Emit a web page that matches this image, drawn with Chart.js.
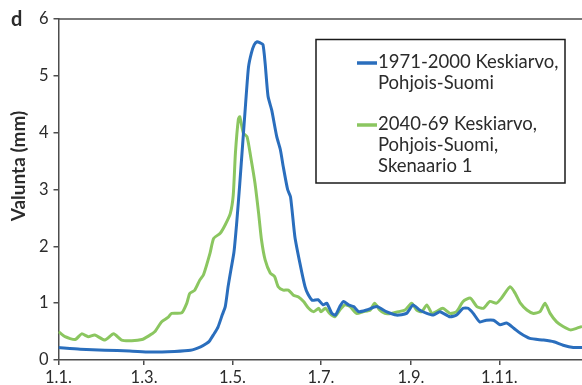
<!DOCTYPE html>
<html lang="fi">
<head>
  <meta charset="UTF-8" />
  <title>Valunta - Pohjois-Suomi</title>
  <script src="https://cdn.jsdelivr.net/npm/chart.js"></script>
  <style>
    html, body { margin: 0; padding: 0; background: #fff; }
    canvas { display: block; }
  </style>
</head>
<body>
  <canvas id="valunta" width="582" height="385"></canvas>

  <script>
    // päivä vuoden alusta (1.1. = 0) ja valunta mm
    const blueDays = [0, 15, 32, 49, 63, 80, 91, 98, 102, 104, 107, 110, 113, 115, 117, 119, 121, 123, 125, 127, 129, 131, 133, 135, 137, 139, 141, 142.5, 144.5, 147, 150.5, 153, 155, 158, 160, 163, 166.5, 170, 172, 175, 179, 182.5, 185, 188.5, 191, 194, 196.5, 200, 203.5, 207, 212.5, 219.5, 226, 233, 240, 244.5, 249, 254, 258.5, 263, 270, 274.5, 279, 282.5, 286, 290.5, 295, 300, 304.5, 309, 314, 318.5, 325, 334.5, 341.5, 348, 355, 361];
    const blueValues = [0.22, 0.19, 0.17, 0.16, 0.14, 0.15, 0.17, 0.23, 0.29, 0.33, 0.45, 0.58, 0.8, 0.94, 1.3, 1.6, 1.9, 2.45, 3.1, 3.8, 4.5, 5.15, 5.4, 5.55, 5.6, 5.58, 5.55, 5.22, 4.64, 4.4, 3.93, 3.7, 3.4, 3.0, 2.87, 2.17, 1.7, 1.29, 1.16, 1.05, 1.06, 0.97, 1.0, 0.82, 0.79, 0.94, 1.03, 0.97, 0.94, 0.85, 0.88, 0.94, 0.85, 0.79, 0.82, 0.97, 0.88, 0.82, 0.79, 0.85, 0.76, 0.79, 0.91, 0.91, 0.82, 0.67, 0.7, 0.7, 0.62, 0.65, 0.56, 0.47, 0.38, 0.35, 0.32, 0.26, 0.22, 0.22];

    const greenDays = [0, 4.5, 11.5, 16, 20.5, 25, 32, 38, 43.5, 50.5, 57.5, 62, 66.5, 71, 75.5, 78, 85, 88.5, 90.5, 94, 97.5, 100, 104.5, 107, 111.5, 115, 118.5, 120.5, 122, 124, 125, 127.5, 130, 132.5, 135.5, 138, 140, 142.5, 146, 149, 151.5, 155, 158.5, 162, 165.5, 169, 172.5, 176, 179.5, 181, 184, 187, 190.5, 194, 197.5, 201, 205.5, 210, 215, 218, 221.5, 225, 229.5, 234.5, 239, 243.5, 247, 250.5, 254, 257.5, 260.5, 265, 270, 274.5, 279, 284, 288.5, 293, 297.5, 302, 305.5, 311.5, 315, 318.5, 323, 327.5, 332, 335.5, 339, 343.5, 348, 353, 357.5, 361];
    const greenValues = [0.5, 0.41, 0.36, 0.46, 0.41, 0.44, 0.35, 0.46, 0.35, 0.34, 0.36, 0.42, 0.5, 0.67, 0.75, 0.82, 0.83, 1.0, 1.17, 1.23, 1.41, 1.5, 1.88, 2.14, 2.23, 2.38, 2.58, 2.9, 3.64, 4.23, 4.28, 3.99, 3.93, 3.58, 3.11, 2.58, 2.11, 1.76, 1.53, 1.47, 1.29, 1.23, 1.23, 1.14, 1.11, 1.03, 0.91, 0.85, 0.91, 0.85, 0.91, 0.82, 0.76, 0.88, 0.97, 0.94, 0.82, 0.85, 0.88, 1.0, 0.88, 0.82, 0.82, 0.85, 0.88, 1.0, 0.88, 0.85, 0.97, 0.82, 0.85, 0.91, 0.82, 0.85, 1.03, 1.09, 0.94, 0.91, 1.03, 1.0, 1.09, 1.29, 1.17, 1.0, 0.88, 0.82, 0.85, 1.0, 0.82, 0.67, 0.59, 0.53, 0.56, 0.59];

    const tickDays = [0, 59, 120, 181, 243, 304];
    const tickLabels = ['1.1.', '1.3.', '1.5.', '1.7.', '1.9.', '1.11.'];
    const yTicks = [0, 1, 2, 3, 4, 5, 6];

    const blueLegend = ['1971-2000 Keskiarvo,', 'Pohjois-Suomi'];
    const greenLegend = ['2040-69 Keskiarvo,', 'Pohjois-Suomi,', 'Skenaario 1'];

    const axisColor = '#4d4d4d';
    const textColor = '#2b2b2b';
    const fontFamily = 'Lato, "Open Sans", sans-serif';

    // kirjain d, y-akselin otsikko, yläreuna ja selite
    const koristeet = {
      id: 'koristeet',
      afterDraw(chart) {
        const ctx = chart.ctx;
        const area = chart.chartArea;
        ctx.save();

        ctx.strokeStyle = axisColor;
        ctx.lineWidth = 1.5;
        ctx.beginPath();
        ctx.moveTo(area.left, area.top);
        ctx.lineTo(area.right, area.top);
        ctx.stroke();

        ctx.fillStyle = textColor;
        ctx.font = 'bold 20px ' + fontFamily;
        ctx.textBaseline = 'alphabetic';
        ctx.textAlign = 'left';
        ctx.fillText('d', 11, 26);

        ctx.save();
        ctx.translate(19, 166);
        ctx.rotate(-Math.PI / 2);
        ctx.textAlign = 'center';
        ctx.textBaseline = 'middle';
        ctx.font = 'bold 19px ' + fontFamily;
        ctx.fillText('Valunta (mm)', 0, 0);
        ctx.restore();

        // selitelaatikko
        ctx.strokeStyle = '#1a1a1a';
        ctx.lineWidth = 1.5;
        ctx.strokeRect(316, 39.5, 249, 143.5);

        const entries = [
          { lines: blueLegend, y: 62, ds: chart.data.datasets[0] },
          { lines: greenLegend, y: 124, ds: chart.data.datasets[1] }
        ];
        ctx.font = '18.5px ' + fontFamily;
        ctx.textBaseline = 'middle';
        entries.forEach(e => {
          ctx.strokeStyle = e.ds.borderColor;
          ctx.lineWidth = 3.5;
          ctx.beginPath();
          ctx.moveTo(357, e.y + 1);
          ctx.lineTo(377, e.y + 1);
          ctx.stroke();
          ctx.fillStyle = textColor;
          e.lines.forEach((t, i) => ctx.fillText(t, 378, e.y + i * 21));
        });

        ctx.restore();
      }
    };

    new Chart(document.getElementById('valunta').getContext('2d'), {
      type: 'line',
      data: {
        datasets: [{
          label: blueLegend.join(' '),
          data: blueDays.map((d, i) => ({ x: d, y: blueValues[i] })),
          borderColor: '#2a6ebd',
          borderWidth: 3,
          pointRadius: 0,
          tension: 0.2
        }, {
          label: greenLegend.join(' '),
          data: greenDays.map((d, i) => ({ x: d, y: greenValues[i] })),
          borderColor: '#8bc660',
          borderWidth: 3,
          pointRadius: 0,
          tension: 0.2
        }]
      },
      options: {
        responsive: false,
        animation: false,
        layout: { padding: { top: 19, right: 0, bottom: 0, left: 0 } },
        plugins: {
          legend: { display: false },
          tooltip: { enabled: false }
        },
        scales: {
          x: {
            type: 'linear',
            min: 0,
            max: 361,
            afterBuildTicks: s => { s.ticks = tickDays.map(v => ({ value: v })); },
            afterFit: s => { s.height = 25; },
            ticks: {
              autoSkip: false,
              maxRotation: 0,
              padding: 3,
              color: textColor,
              font: { family: fontFamily, size: 16.5 },
              callback: v => tickLabels[tickDays.indexOf(v)]
            },
            grid: { drawOnChartArea: false, tickLength: 5, color: axisColor, lineWidth: 1.5 },
            border: { color: axisColor, width: 1.5 }
          },
          y: {
            min: 0,
            max: 6,
            afterBuildTicks: s => { s.ticks = yTicks.map(v => ({ value: v })); },
            afterFit: s => { s.width = 58.5; },
            ticks: {
              padding: 5,
              color: textColor,
              font: { family: fontFamily, size: 16.5 }
            },
            grid: { drawOnChartArea: false, tickLength: 5, color: axisColor, lineWidth: 1.5 },
            border: { color: axisColor, width: 1.5 }
          }
        }
      },
      plugins: [koristeet]
    });
  </script>
</body>
</html>
